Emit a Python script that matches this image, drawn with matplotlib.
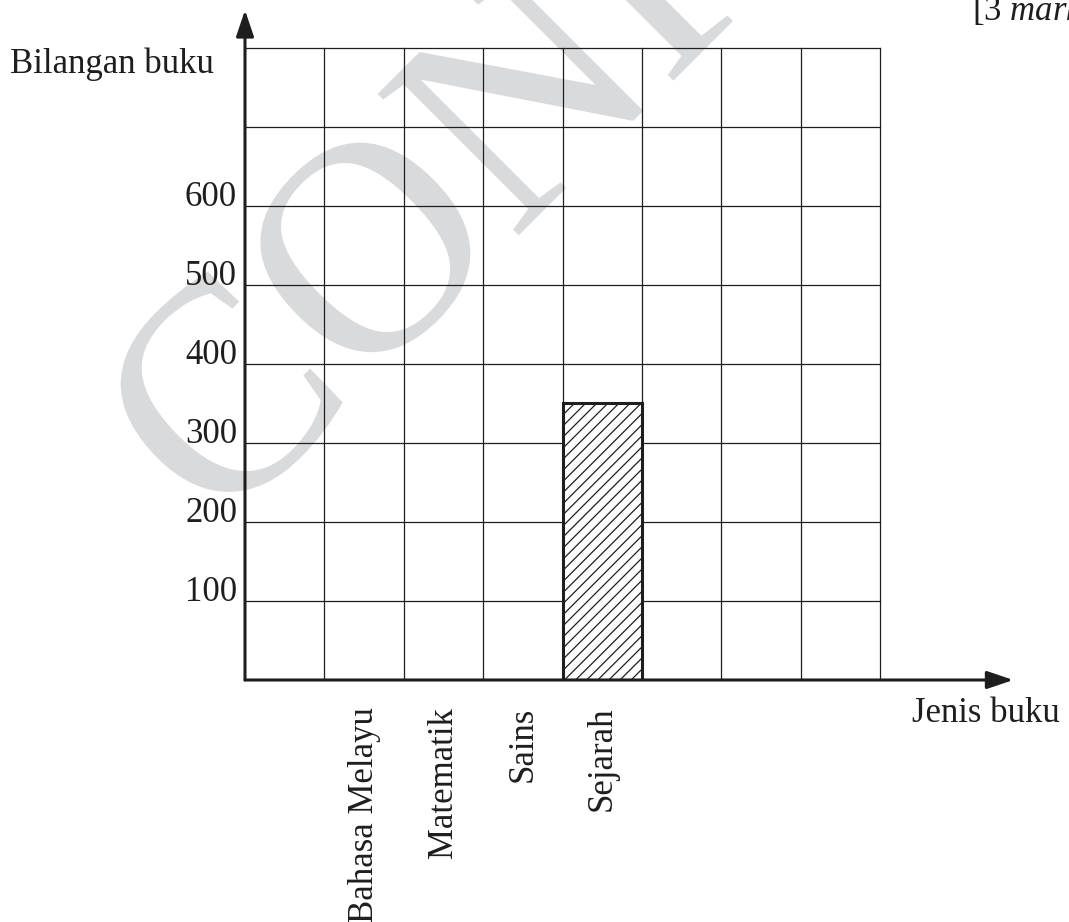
import matplotlib
matplotlib.use('Agg')
import matplotlib.pyplot as plt
from matplotlib.textpath import TextPath
from matplotlib.patches import PathPatch
from matplotlib.font_manager import FontProperties
from matplotlib.transforms import Affine2D

# data
jenis_buku = ['', 'Bahasa Melayu', 'Matematik', 'Sains', 'Sejarah', '', '', '']
bilangan = [None, None, None, None, 350, None, None, None]
y_ticks = [100, 200, 300, 400, 500, 600]
y_max = 800

plt.rcParams['font.family'] = 'Liberation Serif'
plt.rcParams['mathtext.fontset'] = 'custom'
plt.rcParams['mathtext.rm'] = 'Liberation Serif'
plt.rcParams['mathtext.it'] = 'Liberation Serif:italic'
plt.rcParams['hatch.linewidth'] = 0.9

W, H = 1069, 922
ink = '#1e1e1e'
fs = 25

fig = plt.figure(figsize=(W / 100, H / 100), dpi=100)
ax = fig.add_axes([245 / W, (H - 680) / H, 635 / W, 632 / H])
ax.set_xlim(0, len(jenis_buku))
ax.set_ylim(0, y_max)
ax.patch.set_alpha(0)
for s in ax.spines.values():
    s.set_visible(False)
ax.set_xticks([])
ax.set_yticks([])

# watermark, behind everything
tp = TextPath((0, 0), 'CONFIDENTIAL', size=1,
              prop=FontProperties(family='Liberation Serif'))
tr = Affine2D().scale(300, 305).rotate_deg(45).translate(218, H - 536)
fig.add_artist(PathPatch(tp, transform=tr, facecolor='#d9dadc',
                         edgecolor='none', zorder=-5))

# grid of squares
for x in range(1, len(jenis_buku) + 1):
    ax.axvline(x, color=ink, lw=0.9, clip_on=False)
for y in range(100, y_max + 1, 100):
    ax.axhline(y, color=ink, lw=0.9, clip_on=False)

# bars
for i, v in enumerate(bilangan):
    if v is not None:
        ax.bar(i + 0.5, v, width=1, facecolor='white', edgecolor=ink,
               hatch='///', lw=2.2, zorder=3)

# axes with arrows
arrow = dict(arrowstyle='-|>,head_length=0.8,head_width=0.27',
             mutation_scale=20, lw=2.2, color=ink, shrinkA=0, shrinkB=0)
ax.annotate('', xy=(0, 848), xytext=(0, 0), arrowprops=arrow,
            annotation_clip=False, zorder=5)
ax.annotate('', xy=(9.68, 0), xytext=(0, 0), arrowprops=arrow,
            annotation_clip=False, zorder=5)

# labels
for v in y_ticks:
    ax.text(-0.1, v, str(v), ha='right', va='baseline', fontsize=fs, color=ink)
for i, name in enumerate(jenis_buku):
    if name:
        ax.text(i + 0.5, -34, name, rotation=90, ha='center', va='top',
                fontsize=fs, color=ink)

fig.text(10 / W, 1 - 73 / H, 'Bilangan buku', fontsize=fs, color=ink,
         va='baseline')
fig.text(912 / W, 1 - 722 / H, 'Jenis buku', fontsize=fs, color=ink,
         va='baseline')
fig.text(972 / W, 1 - 20 / H, r'[3 $\mathit{marks}$]', fontsize=fs, color=ink,
         va='baseline')

fig.savefig('out.png', dpi=100)
